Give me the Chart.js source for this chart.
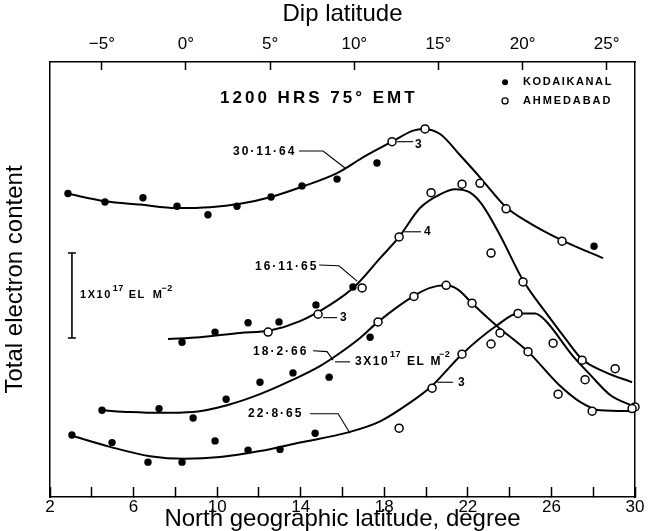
<!DOCTYPE html>
<html><head><meta charset="utf-8">
<script src="https://cdn.jsdelivr.net/npm/chart.js@4.4.1/dist/chart.umd.min.js"></script>
<style>html,body{margin:0;padding:0;background:#fff;}canvas{display:block;}</style>
</head><body>
<canvas id="c" width="660" height="531"></canvas>
<script>
// ---------------- data (x: north geographic latitude, deg; y: TEC, 10^17 el m^-2, curves offset) ----------------
const geoTickLabels = [2, 6, 10, 14, 18, 22, 26, 30];
const dipTickLabels = [-5, 0, 5, 10, 15, 20, 25];

// 30·11·64
const lat_K_301164 = [2.86, 4.63, 6.45, 8.08, 9.56, 10.95, 12.58, 14.06, 15.74, 17.65, 28.04];
const tec_K_301164 = [3.57, 3.47, 3.52, 3.42, 3.32, 3.42, 3.53, 3.66, 3.74, 3.93, 2.95];
const lat_A_301164 = [18.37, 19.95, 22.58, 23.83, 26.51];
const tec_A_301164 = [4.18, 4.33, 3.69, 3.39, 3.01];
const lat_C_301164 = [2.81, 4.63, 6.31, 8.08, 9.66, 11.10, 12.58, 14.06, 15.74, 17.08, 18.37, 19.38, 19.86, 20.67, 21.63, 22.58, 23.30, 23.83, 24.98, 26.51, 28.47];
const tec_C_301164 = [3.57, 3.48, 3.44, 3.40, 3.41, 3.45, 3.53, 3.65, 3.81, 4.01, 4.18, 4.31, 4.33, 4.27, 4.02, 3.76, 3.55, 3.41, 3.22, 3.02, 2.81];

// 16·11·65
const lat_K_161165 = [8.32, 9.90, 11.48, 12.96, 14.73, 16.50];
const tec_K_161165 = [1.82, 1.94, 2.05, 2.06, 2.26, 2.47];
const lat_A_161165 = [12.44, 14.83, 16.94, 18.71, 20.24, 21.72, 23.11, 24.64, 27.47, 29.05];
const tec_A_161165 = [1.94, 2.15, 2.46, 3.06, 3.58, 3.68, 2.87, 2.53, 1.61, 1.51];
const lat_C_161165 = [7.65, 9.18, 11.10, 12.53, 13.97, 15.40, 16.60, 17.80, 18.71, 19.71, 20.67, 21.39, 22.11, 22.68, 23.54, 24.64, 25.70, 26.65, 27.47, 28.57, 29.86];
const tec_C_161165 = [1.86, 1.88, 1.93, 1.96, 2.07, 2.26, 2.48, 2.81, 3.06, 3.40, 3.56, 3.62, 3.58, 3.44, 3.08, 2.55, 2.18, 1.87, 1.62, 1.47, 1.35];

// 18·2·66
const lat_K_180266 = [4.49, 7.22, 8.85, 10.43, 12.05, 13.63, 15.36, 17.32];
const tec_K_180266 = [1.02, 1.04, 0.93, 1.15, 1.35, 1.46, 1.41, 1.88];
const lat_A_180266 = [17.70, 19.42, 20.96, 22.20, 23.54, 24.88, 26.32, 27.95, 29.86];
const tec_A_180266 = [2.06, 2.36, 2.49, 2.28, 1.93, 1.71, 1.21, 1.01, 1.04];
const lat_C_180266 = [4.49, 5.83, 7.27, 8.85, 10.47, 12.05, 13.63, 14.92, 15.74, 16.84, 17.70, 19.38, 20.19, 20.91, 21.53, 22.20, 23.40, 24.88, 26.32, 27.37, 28.33, 29.86];
const tec_C_180266 = [1.02, 1.00, 0.99, 1.00, 1.08, 1.21, 1.38, 1.54, 1.67, 1.87, 2.06, 2.36, 2.46, 2.49, 2.44, 2.28, 2.01, 1.71, 1.33, 1.12, 1.02, 1.01];

// 22·8·65
const lat_K_220865 = [3.05, 4.97, 6.69, 8.32, 9.90, 11.48, 13.01, 14.69];
const tec_K_220865 = [0.73, 0.64, 0.41, 0.41, 0.66, 0.55, 0.56, 0.75];
const lat_A_220865 = [18.71, 20.29, 21.72, 23.11, 24.40, 26.08, 27.61, 30.0];
const tec_A_220865 = [0.81, 1.28, 1.68, 1.80, 2.16, 1.81, 1.38, 1.06];
const lat_C_220865 = [3.05, 4.87, 6.79, 8.46, 10.14, 12.05, 13.97, 16.27, 17.80, 19.23, 20.29, 21.72, 23.40, 24.40, 25.22, 25.70, 26.99, 27.85, 28.81, 30.0];
const tec_C_220865 = [0.72, 0.59, 0.48, 0.45, 0.47, 0.54, 0.64, 0.76, 0.89, 1.11, 1.31, 1.68, 2.02, 2.16, 2.16, 2.08, 1.67, 1.44, 1.20, 1.06];

// ---------------- helpers / styles ----------------
const FONT = '"Liberation Sans", Arial, sans-serif';
const pts = (xs, ys) => xs.map((v, i) => ({x: v, y: ys[i]}));
Chart.defaults.color = '#000';

function curveDS(label, xs, ys) {
  return {label, data: pts(xs, ys), showLine: true, borderColor: '#000', borderWidth: 2,
    pointRadius: 0, cubicInterpolationMode: 'monotone', fill: false, clip: false, order: 2};
}
function kodDS(label, xs, ys) {
  return {label: 'Kodaikanal ' + label, data: pts(xs, ys), showLine: false, pointRadius: 3.7,
    backgroundColor: '#000', borderColor: '#000', borderWidth: 0, clip: false, order: 1};
}
function ahmDS(label, xs, ys) {
  return {label: 'Ahmedabad ' + label, data: pts(xs, ys), showLine: false, pointRadius: 4,
    backgroundColor: '#fff', borderColor: '#000', borderWidth: 1.5, clip: false, order: 0};
}

// annotation placement (in data units of the two axes)
const notes = [
  {text: '1200 HRS 75° EMT', at: [10.14, 4.69], size: 17, sp: 3},
  {text: 'KODAIKANAL', at: [24.64, 4.88], size: 11, sp: 1.6},
  {text: 'AHMEDABAD', at: [24.64, 4.66], size: 11, sp: 1.9},
  {text: '30·11·64', at: [10.76, 4.06], size: 12, sp: 2},
  {text: '3', at: [19.47, 4.15], size: 12, sp: 0},
  {text: '16·11·65', at: [11.81, 2.71], size: 12, sp: 2},
  {text: '4', at: [19.90, 3.12], size: 12, sp: 0},
  {text: '3', at: [15.88, 2.11], size: 12, sp: 0},
  {text: '18·2·66', at: [11.72, 1.71], size: 12, sp: 2},
  {text: '22·8·65', at: [11.48, 0.98], size: 12, sp: 2},
  {text: '3', at: [21.53, 1.35], size: 12, sp: 0}
];
const leaders = [
  [[13.92, 4.07], [15.07, 4.07], [16.12, 3.87]],
  [[18.61, 4.18], [19.38, 4.18]],
  [[14.88, 2.73], [15.83, 2.72], [16.70, 2.54]],
  [[18.95, 3.12], [19.76, 3.12]],
  [[15.07, 2.11], [15.74, 2.11]],
  [[14.59, 1.72], [15.26, 1.71], [15.55, 1.61]],
  [[15.64, 1.59], [16.36, 1.59]],
  [[14.45, 0.98], [15.79, 0.98], [16.36, 0.75]],
  [[20.53, 1.35], [21.29, 1.35]]
];
const richNotes = [
  {at: [16.60, 1.59], size: 12, parts: [['3X10', 0, 1], ['17', 1, 6], ['EL', 0, 5], ['M', 0, -3], ['−2', 1, 0]]},
  {at: [3.44, 2.38], size: 11, parts: [['1X10', 0, 1], ['17', 1, 5], ['EL', 0, 7], ['M', 0, -2], ['−2', 1, 0]]}
];
const scaleBar = {x: 3.05, from: 1.87, to: 2.87};
const legendMarks = {x: 23.78, kod: 4.88, ahm: 4.66};

const annotate = {
  id: 'annotate',
  afterDatasetsDraw(chart) {
    const {ctx} = chart;
    const xs = chart.scales.x, ys = chart.scales.y;
    const X = v => xs.getPixelForValue(v), Y = v => ys.getPixelForValue(v);
    ctx.save();
    ctx.fillStyle = '#000';
    ctx.strokeStyle = '#000';
    ctx.lineWidth = 1.1;
    for (const L of leaders) {
      ctx.beginPath();
      L.forEach((p, i) => i ? ctx.lineTo(X(p[0]), Y(p[1])) : ctx.moveTo(X(p[0]), Y(p[1])));
      ctx.stroke();
    }
    ctx.textBaseline = 'middle';
    ctx.textAlign = 'left';
    for (const n of notes) {
      ctx.font = `bold ${n.size}px ${FONT}`;
      ctx.letterSpacing = n.sp + 'px';
      ctx.fillText(n.text, X(n.at[0]), Y(n.at[1]));
    }
    for (const r of richNotes) {
      let cx = X(r.at[0]);
      const cy = Y(r.at[1]);
      for (const [t, sup, gap] of r.parts) {
        const fs = sup ? Math.round(r.size * 0.78) : r.size;
        ctx.font = `bold ${fs}px ${FONT}`;
        ctx.letterSpacing = sup ? '0.5px' : '1.5px';
        ctx.fillText(t, cx, sup ? cy - r.size * 0.6 : cy);
        cx += ctx.measureText(t).width + gap;
      }
    }
    ctx.letterSpacing = '0px';
    // scale bar 1x10^17 el m^-2
    ctx.lineWidth = 1.6;
    const bx = X(scaleBar.x), b1 = Y(scaleBar.from), b2 = Y(scaleBar.to);
    ctx.beginPath();
    ctx.moveTo(bx, b1); ctx.lineTo(bx, b2);
    ctx.moveTo(bx - 4, b1); ctx.lineTo(bx + 4, b1);
    ctx.moveTo(bx - 4, b2); ctx.lineTo(bx + 4, b2);
    ctx.stroke();
    // legend markers
    const lx = X(legendMarks.x);
    ctx.beginPath(); ctx.arc(lx, Y(legendMarks.kod), 3, 0, Math.PI * 2); ctx.fill();
    ctx.lineWidth = 1.3;
    ctx.beginPath(); ctx.arc(lx, Y(legendMarks.ahm), 3, 0, Math.PI * 2); ctx.stroke();
    ctx.restore();
  }
};

new Chart(document.getElementById('c'), {
  type: 'scatter',
  data: {
    datasets: [
      curveDS('30·11·64', lat_C_301164, tec_C_301164),
      curveDS('16·11·65', lat_C_161165, tec_C_161165),
      curveDS('18·2·66', lat_C_180266, tec_C_180266),
      curveDS('22·8·65', lat_C_220865, tec_C_220865),
      kodDS('30·11·64', lat_K_301164, tec_K_301164),
      kodDS('16·11·65', lat_K_161165, tec_K_161165),
      kodDS('18·2·66', lat_K_180266, tec_K_180266),
      kodDS('22·8·65', lat_K_220865, tec_K_220865),
      ahmDS('30·11·64', lat_A_301164, tec_A_301164),
      ahmDS('16·11·65', lat_A_161165, tec_A_161165),
      ahmDS('18·2·66', lat_A_180266, tec_A_180266),
      ahmDS('22·8·65', lat_A_220865, tec_A_220865)
    ]
  },
  options: {
    responsive: false,
    animation: false,
    events: [],
    layout: {padding: 0},
    plugins: {legend: {display: false}, tooltip: {enabled: false}},
    scales: {
      x: {
        type: 'linear', position: 'bottom', min: 2, max: 30,
        ticks: {stepSize: 2, maxTicksLimit: 100, autoSkip: false, maxRotation: 0, includeBounds: false,
          padding: 10, color: '#000', font: {family: FONT, size: 17},
          callback: v => geoTickLabels.includes(v) ? String(v) : ''},
        grid: {drawOnChartArea: false, drawTicks: true, tickLength: -10, tickWidth: 1.5, tickColor: '#000'},
        border: {display: true, color: '#000', width: 1.5},
        title: {display: true, text: 'North geographic latitude, degree', color: '#000',
          font: {family: FONT, size: 24, lineHeight: 1}, padding: {top: 0, bottom: 0}},
        afterFit: s => { s.height = 34; }
      },
      x2: {
        type: 'linear', position: 'top', min: -8.08, max: 26.68,
        ticks: {stepSize: 5, maxTicksLimit: 100, autoSkip: false, maxRotation: 0, includeBounds: false,
          padding: 15, color: '#000', font: {family: FONT, size: 17},
          callback: v => dipTickLabels.includes(v) ? (v < 0 ? '−' : '') + Math.abs(v) + '°' : ''},
        grid: {drawOnChartArea: false, drawTicks: true, tickLength: -8, tickWidth: 1.5, tickColor: '#000'},
        border: {display: true, color: '#000', width: 1.5},
        title: {display: true, text: 'Dip latitude', color: '#000',
          font: {family: FONT, size: 24, lineHeight: 1}, padding: {top: 2, bottom: 0}},
        afterFit: s => { s.height = 62; }
      },
      y: {
        type: 'linear', position: 'left', min: 0, max: 5.1176,
        ticks: {display: false},
        grid: {display: false, drawTicks: false},
        border: {display: true, color: '#000', width: 1.5},
        title: {display: true, text: 'Total electron content', color: '#000',
          font: {family: FONT, size: 24, lineHeight: 1}, padding: {top: 3, bottom: 0}},
        afterFit: s => { s.width = 50; }
      },
      y2: {
        type: 'linear', position: 'right', min: 0, max: 1,
        ticks: {display: false},
        grid: {display: false, drawTicks: false},
        border: {display: true, color: '#000', width: 1.5},
        afterFit: s => { s.width = 25; }
      }
    }
  },
  plugins: [annotate]
});
</script>
</body></html>
